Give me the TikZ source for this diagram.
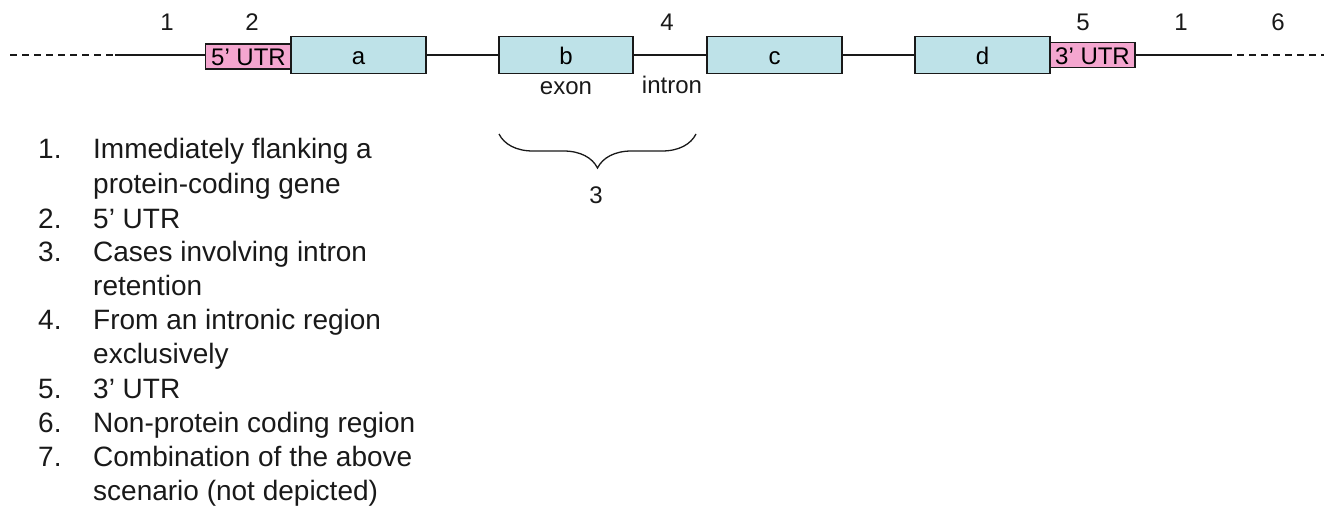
\documentclass[tikz,border=0pt]{standalone}
\usepackage{fontspec}
\setmainfont{Liberation Sans}
\usetikzlibrary{decorations.pathreplacing}
\definecolor{exonfill}{RGB}{190,226,232}
\definecolor{utrfill}{RGB}{244,166,207}
\definecolor{ink}{RGB}{25,25,25}
\tikzset{
  px/.style={x=1pt,y=-1pt},
  exonbox/.style={draw=ink,line width=1.5pt,fill=exonfill,inner sep=0pt,text height=19pt,text depth=0pt,font=\fontsize{24}{26}\selectfont},
  utrbox/.style={draw=ink,line width=1.5pt,fill=utrfill,inner sep=0pt,text height=18.5pt,text depth=0pt,font=\fontsize{24}{26}\selectfont},
  lbl/.style={inner sep=0pt,text=ink,font=\fontsize{24}{26}\selectfont},
  listnum/.style={inner sep=0pt,anchor=base west,text=ink,font=\fontsize{28}{30}\selectfont},
  listtxt/.style={inner sep=0pt,anchor=base west,text=ink,font=\fontsize{28}{30}\selectfont},
  gline/.style={draw=ink,line width=1.5pt},
}
\begin{document}
\begin{tikzpicture}[px]
\useasboundingbox (0,0) rectangle (1324,506);
% boxes
\node[utrbox,minimum width=86pt,minimum height=25pt] (u5) at (248.5,56.5) {5’ UTR};
\node[exonbox,minimum width=135pt,minimum height=37pt] (a) at (358.5,55) {a};
\node[exonbox,minimum width=134pt,minimum height=37pt] (b) at (566,55) {b};
\node[exonbox,minimum width=135pt,minimum height=37pt] (c) at (774.5,55) {c};
\node[exonbox,minimum width=135pt,minimum height=37pt] (d) at (982.5,55) {d};
\node[utrbox,minimum width=85pt,minimum height=25pt] (u3) at (1092.5,55) {3’ UTR};
% line ends
\coordinate (l0) at (10,55);
\coordinate (l1) at (115,55);
\coordinate (r1) at (1225,55);
\coordinate (r0) at (1324,55);
\draw[gline,dashed,dash pattern=on 7pt off 5pt] (l0) -- (l1);
\draw[gline] (l1) -- (l1 -| u5.west);
\draw[gline] (a.east) -- (b.west);
\draw[gline] (b.east) -- (c.west);
\draw[gline] (c.east) -- (d.west);
\draw[gline] (r1 -| u3.east) -- (r1);
\draw[gline,dashed,dash pattern=on 7pt off 5pt] (r1) -- (r0);
% numbers on top
\node[lbl] (n1) at (167,22) {1};
\node[lbl] (n2) at (252,22) {2};
\node[lbl] (n4) at (667,22) {4};
\node[lbl] (n5) at (1083,22) {5};
\node[lbl] (n1b) at (1181,22) {1};
\node[lbl] (n6) at (1278,22) {6};
% exon / intron
\node[lbl] (exon) at (566,88) {exon};
\node[lbl] (intron) at (672,85) {intron};
% brace
\coordinate (bl) at (499,134);
\coordinate (br) at (696,134);
\draw[draw=ink,line width=1.3pt,decorate,decoration={brace,amplitude=34pt}] (br) -- (bl);
\node[lbl] (n3) at (596,195) {3};
% list
\foreach \n/\y in {1/158,2/228,3/261,4/329,5/398,6/432,7/466}{
  \node[listnum] (ln\n) at (38,\y) {\n.};
}
\node[listtxt] (t1a) at (93,158) {Immediately flanking a};
\node[listtxt] (t1b) at (93,193) {protein-coding gene};
\node[listtxt] (t2) at (93,228) {5’ UTR};
\node[listtxt] (t3a) at (93,261) {Cases involving intron};
\node[listtxt] (t3b) at (93,295) {retention};
\node[listtxt] (t4a) at (93,329) {From an intronic region};
\node[listtxt] (t4b) at (93,363) {exclusively};
\node[listtxt] (t5) at (93,398) {3’ UTR};
\node[listtxt] (t6) at (93,432) {Non-protein coding region};
\node[listtxt] (t7a) at (93,466) {Combination of the above};
\node[listtxt] (t7b) at (93,500) {scenario (not depicted)};
\end{tikzpicture}
\end{document}
